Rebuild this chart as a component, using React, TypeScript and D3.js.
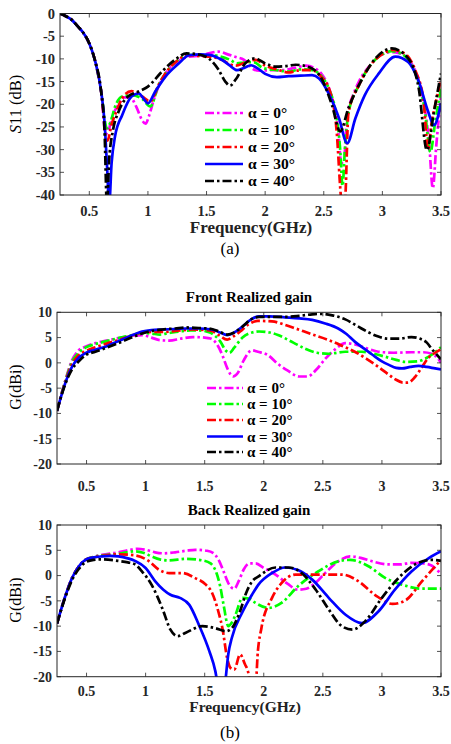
import React from 'react';
import * as d3 from 'd3';

type Pt = [number, number];

const freqTicks = [0.5, 1, 1.5, 2, 2.5, 3, 3.5];
const s11Ticks = [-40, -35, -30, -25, -20, -15, -10, -5, 0];
const gainTicks = [-20, -15, -10, -5, 0, 5, 10];
const seriesLabels = ['α = 0°', 'α = 10°', 'α = 20°', 'α = 30°', 'α = 40°'];
const seriesColors = ['#ff00ff', '#00ff00', '#ff0000', '#0000ff', '#000000'];
const seriesDashed = [true, true, true, false, true];

// ---------- (a) S11 ----------
const s11A0: Pt[] = [[0.25,0],[0.3,-0.6],[0.35,-1.4],[0.4,-2.8],[0.45,-4.3],[0.5,-6.6],[0.55,-10.5],[0.6,-17],[0.64,-26.5],[0.66,-26],[0.7,-22.5],[0.75,-20],[0.8,-18.5],[0.85,-18.5],[0.9,-20.5],[0.95,-23.5],[0.98,-24.3],[1.01,-22.5],[1.05,-19],[1.1,-15.5],[1.17,-12.5],[1.26,-10.5],[1.35,-9.5],[1.45,-9.3],[1.52,-8.8],[1.6,-8.4],[1.68,-9.0],[1.75,-9.6],[1.82,-10.2],[1.9,-12.3],[1.95,-12.6],[2.05,-12.5],[2.15,-12.5],[2.25,-12],[2.35,-11.5],[2.42,-12],[2.48,-13.3],[2.53,-15.5],[2.58,-19.5],[2.62,-25],[2.65,-33],[2.67,-33],[2.7,-22.5],[2.75,-18],[2.8,-15],[2.9,-11.3],[3.0,-9],[3.08,-8.5],[3.15,-8.8],[3.22,-10],[3.3,-14],[3.36,-20.5],[3.4,-29],[3.43,-38.5],[3.46,-29],[3.5,-18]];
const s11A10: Pt[] = [[0.25,0],[0.3,-0.6],[0.35,-1.4],[0.4,-2.8],[0.45,-4.3],[0.5,-6.6],[0.55,-10.5],[0.6,-17],[0.65,-25.3],[0.68,-24],[0.72,-20.5],[0.78,-18.3],[0.86,-18],[0.95,-18.8],[1.02,-20.5],[1.09,-15.8],[1.17,-12.5],[1.26,-10.2],[1.35,-9.1],[1.45,-9.2],[1.55,-9.2],[1.62,-9.5],[1.7,-10.2],[1.76,-11],[1.82,-10.8],[1.9,-10.7],[1.98,-12],[2.1,-12.5],[2.2,-12.8],[2.3,-12.3],[2.4,-12.5],[2.48,-13.8],[2.55,-17],[2.6,-21.5],[2.64,-30],[2.66,-38],[2.68,-30],[2.71,-22],[2.8,-15.8],[2.9,-11.3],[3.0,-9.0],[3.08,-8.3],[3.16,-8.8],[3.24,-11],[3.3,-14.5],[3.36,-21],[3.41,-30.5],[3.45,-24],[3.5,-16.5]];
const s11A20: Pt[] = [[0.25,0],[0.3,-0.6],[0.35,-1.4],[0.4,-2.8],[0.45,-4.3],[0.5,-6.6],[0.55,-10.5],[0.6,-17],[0.655,-28],[0.69,-24.5],[0.74,-21],[0.78,-18.7],[0.86,-17.1],[0.95,-18.3],[1.02,-19.4],[1.09,-15.8],[1.17,-12.5],[1.26,-10.2],[1.35,-9.2],[1.45,-9.4],[1.55,-9.6],[1.63,-10.2],[1.7,-11.2],[1.75,-11.5],[1.83,-10.8],[1.92,-10.2],[2.0,-11.5],[2.1,-12.3],[2.2,-13],[2.3,-12.5],[2.4,-12.5],[2.48,-14],[2.55,-17],[2.61,-26],[2.645,-40],[2.665,-45],[2.685,-40],[2.71,-22],[2.8,-15.8],[2.91,-11],[3.03,-8.5],[3.08,-8.0],[3.2,-9],[3.28,-12.5],[3.35,-19],[3.39,-30],[3.42,-24],[3.45,-20.3],[3.5,-14.5]];
const s11A30: Pt[] = [[0.25,0],[0.3,-0.6],[0.35,-1.4],[0.4,-2.8],[0.45,-4.3],[0.5,-6.6],[0.55,-10.5],[0.6,-17],[0.63,-24],[0.65,-33],[0.67,-42],[0.69,-33],[0.72,-27],[0.78,-22.4],[0.86,-18.3],[0.92,-17.6],[0.97,-19],[1.0,-19.8],[1.06,-17.3],[1.15,-13.9],[1.26,-11.1],[1.35,-9.2],[1.45,-9.0],[1.52,-9.1],[1.63,-10.2],[1.7,-11.5],[1.76,-12.5],[1.82,-12],[1.88,-11.4],[1.93,-12],[2.0,-13.3],[2.1,-14],[2.2,-13.8],[2.3,-13.7],[2.4,-13.6],[2.46,-14.3],[2.56,-18.6],[2.63,-23.1],[2.7,-28.6],[2.77,-23.1],[2.85,-18],[2.97,-13.2],[3.11,-9.5],[3.22,-10.7],[3.31,-15],[3.39,-21.6],[3.44,-24.6],[3.5,-19.8]];
const s11A40: Pt[] = [[0.25,0],[0.3,-0.6],[0.35,-1.4],[0.4,-2.8],[0.45,-4.3],[0.5,-6.6],[0.55,-10.5],[0.6,-17],[0.63,-26],[0.65,-42],[0.67,-32],[0.7,-26],[0.75,-21.6],[0.83,-18.3],[0.92,-17.2],[1.0,-16.1],[1.12,-12.8],[1.23,-10.2],[1.33,-8.8],[1.4,-8.9],[1.5,-9.6],[1.6,-12.3],[1.66,-15],[1.7,-15.9],[1.75,-14.5],[1.83,-11],[1.915,-9.9],[2.0,-11],[2.09,-11.7],[2.18,-11.6],[2.26,-11.3],[2.4,-12.1],[2.48,-14.3],[2.57,-20.2],[2.64,-26],[2.71,-20.9],[2.83,-14.3],[2.94,-9.9],[3.08,-7.7],[3.22,-9.9],[3.31,-16.5],[3.38,-30.1],[3.44,-21.6],[3.5,-13.2]];

// ---------- Front realized gain ----------
const frontA0: Pt[] = [[0.25,-9.5],[0.32,-3.5],[0.377,0.5],[0.434,2.5],[0.49,3.2],[0.575,3.9],[0.67,4.4],[0.77,4.9],[0.87,5.3],[0.97,5.5],[1.05,5.0],[1.12,4.5],[1.2,4.4],[1.3,4.8],[1.4,5.1],[1.5,5.0],[1.55,4.8],[1.6,3.8],[1.65,1.5],[1.69,-1.0],[1.74,-2.7],[1.78,-2.0],[1.83,0.5],[1.9,2.5],[1.95,2.2],[2.03,1.6],[2.12,-0.2],[2.2,-1.5],[2.3,-2.7],[2.37,-2.7],[2.45,-1.2],[2.52,0.8],[2.6,2.6],[2.69,3.9],[2.78,3.6],[2.88,2.8],[2.97,2.2],[3.1,2.0],[3.25,2.1],[3.35,2.1],[3.42,1.8],[3.47,1.0],[3.5,0.0]];
const frontA10: Pt[] = [[0.25,-9.5],[0.32,-3.6],[0.377,0.2],[0.434,2.0],[0.49,3.0],[0.575,3.7],[0.67,4.3],[0.77,4.9],[0.87,5.4],[0.97,5.9],[1.05,5.8],[1.12,5.6],[1.2,5.9],[1.28,6.2],[1.38,6.4],[1.45,6.4],[1.53,6.1],[1.58,5.5],[1.63,4.3],[1.68,2.4],[1.71,2.0],[1.75,3.0],[1.82,5.0],[1.9,6.0],[1.96,6.2],[2.05,6.0],[2.12,5.5],[2.25,4.0],[2.35,2.8],[2.45,2.0],[2.55,1.8],[2.69,2.2],[2.83,2.2],[2.95,1.7],[3.03,1.2],[3.12,0.6],[3.2,0.2],[3.3,0.3],[3.38,1.0],[3.45,2.1],[3.5,3.1]];
const frontA20: Pt[] = [[0.25,-9.5],[0.32,-3.8],[0.377,-0.3],[0.434,1.5],[0.49,2.3],[0.575,3.1],[0.67,3.8],[0.77,4.5],[0.87,5.3],[0.97,6.0],[1.05,6.1],[1.14,6.1],[1.25,6.3],[1.39,6.6],[1.5,6.5],[1.56,6.3],[1.62,5.5],[1.69,4.6],[1.74,5.2],[1.8,6.2],[1.87,7.6],[1.95,8.3],[2.07,8.2],[2.17,7.6],[2.27,6.8],[2.4,5.7],[2.55,4.5],[2.66,3.4],[2.77,2.2],[2.87,0.8],[2.97,-0.8],[3.05,-2.2],[3.11,-3.2],[3.18,-3.9],[3.22,-3.9],[3.28,-2.8],[3.34,-0.8],[3.39,0.9],[3.45,2.0],[3.5,2.7]];
const frontA30: Pt[] = [[0.25,-9.5],[0.32,-4.0],[0.377,-0.8],[0.434,1.0],[0.49,1.9],[0.575,2.6],[0.67,3.3],[0.77,4.3],[0.87,5.3],[0.97,6.2],[1.05,6.5],[1.14,6.6],[1.25,6.7],[1.34,6.8],[1.45,6.8],[1.56,6.6],[1.63,6.0],[1.69,5.5],[1.75,6.0],[1.82,7.2],[1.9,8.7],[1.96,9.2],[2.05,9.2],[2.18,9.0],[2.3,8.8],[2.41,8.5],[2.52,7.8],[2.63,6.8],[2.7,5.7],[2.77,4.2],[2.85,2.8],[2.92,1.6],[3.0,0.3],[3.06,-0.4],[3.12,-1.0],[3.17,-1.1],[3.24,-0.8],[3.31,-0.6],[3.38,-0.8],[3.45,-1.1],[3.5,-1.3]];
const frontA40: Pt[] = [[0.25,-9.5],[0.32,-4.2],[0.377,-1.3],[0.434,0.3],[0.49,1.5],[0.575,2.2],[0.67,3.0],[0.77,3.9],[0.87,4.9],[0.97,5.8],[1.05,6.3],[1.14,6.6],[1.25,6.8],[1.34,7.0],[1.45,6.9],[1.56,6.7],[1.63,6.1],[1.69,5.6],[1.75,6.0],[1.82,7.2],[1.9,8.7],[1.96,9.1],[2.07,9.1],[2.18,9.1],[2.3,9.3],[2.41,9.6],[2.49,9.7],[2.58,9.4],[2.69,8.6],[2.79,7.3],[2.89,6.0],[2.97,5.2],[3.05,4.8],[3.15,4.8],[3.25,5.1],[3.32,4.8],[3.38,4.0],[3.43,2.5],[3.47,1.5],[3.5,0.7]];

// ---------- Back realized gain ----------
const backA0: Pt[] = [[0.25,-9.5],[0.32,-4.1],[0.377,-0.5],[0.434,1.8],[0.49,3.1],[0.56,3.7],[0.63,4.1],[0.77,4.6],[0.85,5.0],[0.93,5.3],[1.0,5.1],[1.08,4.6],[1.15,4.4],[1.25,4.6],[1.34,4.9],[1.42,5.1],[1.52,4.9],[1.57,4.5],[1.62,3.0],[1.66,0.8],[1.7,-1.5],[1.75,-2.6],[1.79,-1.0],[1.83,1.2],[1.88,2.4],[1.93,2.4],[2.0,1.5],[2.1,0.2],[2.2,-1.6],[2.29,-2.8],[2.36,-2.6],[2.43,-1.6],[2.52,0.5],[2.63,2.8],[2.73,3.8],[2.82,3.5],[2.92,2.8],[3.05,2.2],[3.15,2.2],[3.25,2.5],[3.35,2.4],[3.42,2.0],[3.47,1.0],[3.5,0.3]];
const backA10: Pt[] = [[0.25,-9.5],[0.32,-4.1],[0.377,-0.5],[0.434,1.8],[0.49,3.1],[0.56,3.7],[0.63,4.0],[0.77,4.3],[0.91,4.8],[0.98,4.5],[1.05,3.8],[1.12,3.2],[1.2,3.0],[1.34,3.3],[1.48,3.0],[1.55,2.4],[1.6,0.5],[1.63,-2.0],[1.66,-5.8],[1.7,-10.0],[1.73,-9.3],[1.76,-7.8],[1.82,-4.4],[1.88,-4.6],[1.93,-5.4],[2.04,-6.4],[2.15,-5.4],[2.29,-2.1],[2.46,0.8],[2.63,2.8],[2.73,3.1],[2.82,2.6],[2.89,1.8],[3.03,-0.5],[3.17,-1.8],[3.34,-2.6],[3.5,-2.6]];
const backA20: Pt[] = [[0.25,-9.5],[0.32,-4.1],[0.377,-0.5],[0.434,1.8],[0.49,3.1],[0.56,3.6],[0.63,3.9],[0.77,4.2],[0.91,4.0],[1.03,2.8],[1.11,1.2],[1.2,0.5],[1.31,0.5],[1.42,-0.5],[1.51,-1.8],[1.56,-3.3],[1.59,-5.1],[1.62,-7.5],[1.65,-10.4],[1.69,-16.3],[1.72,-18.3],[1.75,-18.6],[1.8,-15.6],[1.84,-17.5],[1.87,-19.3],[1.9,-24],[1.925,-24],[1.95,-15],[1.98,-10.4],[2.07,-4.4],[2.15,-1.5],[2.27,0.2],[2.46,0.2],[2.66,0.2],[2.8,-1.1],[2.94,-3.8],[3.09,-5.6],[3.2,-4.9],[3.34,-1.1],[3.5,3.1]];
const backA30: Pt[] = [[0.25,-9.5],[0.32,-4.1],[0.377,-0.5],[0.434,1.8],[0.49,3.1],[0.56,3.6],[0.63,3.8],[0.7,3.9],[0.77,3.8],[0.85,3.4],[0.91,2.9],[1.0,1.5],[1.08,-1.1],[1.15,-2.8],[1.21,-3.8],[1.29,-4.4],[1.37,-5.8],[1.45,-9.7],[1.54,-15],[1.59,-18.9],[1.62,-23],[1.645,-26],[1.67,-22],[1.7,-15.5],[1.73,-12.3],[1.82,-7.2],[1.9,-3.8],[1.955,-1.8],[2.07,0.5],[2.18,1.6],[2.29,1.1],[2.41,-0.8],[2.55,-4.4],[2.69,-7.7],[2.83,-9.4],[2.97,-7.1],[3.11,-2.8],[3.25,0.8],[3.4,3.5],[3.5,4.8]];
const backA40: Pt[] = [[0.25,-9.5],[0.32,-4.3],[0.377,-0.9],[0.434,1.3],[0.49,2.6],[0.56,3.1],[0.63,3.2],[0.77,2.9],[0.85,2.6],[0.91,2.2],[0.97,0.8],[1.05,-1.8],[1.14,-6.4],[1.21,-10.7],[1.27,-12.0],[1.34,-11.3],[1.48,-10.0],[1.59,-10.4],[1.68,-11.0],[1.73,-10.4],[1.8,-7],[1.85,-3.5],[1.9,-1.2],[1.96,-0.1],[2.1,1.6],[2.21,1.6],[2.32,0.5],[2.44,-2.8],[2.55,-6.7],[2.66,-10.0],[2.75,-10.7],[2.86,-9.0],[3.0,-4.4],[3.14,-0.5],[3.28,2.2],[3.42,3.1],[3.5,2.9]];

const s11Series = [s11A0, s11A10, s11A20, s11A30, s11A40];
const frontSeries = [frontA0, frontA10, frontA20, frontA30, frontA40];
const backSeries = [backA0, backA10, backA20, backA30, backA40];

const SERIF = '"Liberation Serif", "Times New Roman", Times, serif';
const DASH = '9,3,2.5,3';
const AXIS = '#262626';

type PanelProps = {
  id: string;
  x0: number; x1: number; y0: number; y1: number;
  yDomain: [number, number];
  yTicks: number[];
  series: Pt[][];
  tickSize: number;
  xTickBaseline: number;
  yTickRight: number;
  title?: string;
  titleY?: number;
  legend?: { lx0: number; lx1: number; tx: number; rows: number[]; size: number };
};

function Panel(p: PanelProps) {
  const x = d3.scaleLinear().domain([0.25, 3.5]).range([p.x0, p.x1]);
  const y = d3.scaleLinear().domain(p.yDomain).range([p.y1, p.y0]);
  const line = d3.line<Pt>().x(d => x(d[0])).y(d => y(d[1])).curve(d3.curveMonotoneX);
  const tl = 4;
  return (
    <g>
      <defs>
        <clipPath id={p.id}>
          <rect x={p.x0} y={p.y0} width={p.x1 - p.x0} height={p.y1 - p.y0} />
        </clipPath>
      </defs>
      <rect x={p.x0} y={p.y0} width={p.x1 - p.x0} height={p.y1 - p.y0} fill="#fff" />
      <g clipPath={`url(#${p.id})`}>
        {p.series.map((s, i) => (
          <path key={i} d={line(s) || ''} fill="none" stroke={seriesColors[i]} strokeWidth={2.7}
            strokeDasharray={seriesDashed[i] ? DASH : undefined} strokeLinejoin="round" />
        ))}
      </g>
      {freqTicks.map(t => (
        <g key={'xt' + t}>
          <line x1={x(t)} x2={x(t)} y1={p.y1} y2={p.y1 - tl} stroke={AXIS} strokeWidth={0.8} />
          <line x1={x(t)} x2={x(t)} y1={p.y0} y2={p.y0 + tl} stroke={AXIS} strokeWidth={0.8} />
          <text x={x(t)} y={p.xTickBaseline} textAnchor="middle" fontFamily={SERIF} fontWeight="bold"
            fontSize={p.tickSize} fill={AXIS}>{t}</text>
        </g>
      ))}
      {p.yTicks.map(t => (
        <g key={'yt' + t}>
          <line x1={p.x0} x2={p.x0 + tl} y1={y(t)} y2={y(t)} stroke={AXIS} strokeWidth={0.8} />
          <line x1={p.x1} x2={p.x1 - tl} y1={y(t)} y2={y(t)} stroke={AXIS} strokeWidth={0.8} />
          <text x={p.yTickRight} y={y(t)} dy="0.35em" textAnchor="end" fontFamily={SERIF} fontWeight="bold"
            fontSize={p.tickSize} fill={AXIS}>{t}</text>
        </g>
      ))}
      <rect x={p.x0} y={p.y0} width={p.x1 - p.x0} height={p.y1 - p.y0} fill="none" stroke={AXIS} strokeWidth={1} />
      {p.title && (
        <text x={(p.x0 + p.x1) / 2} y={p.titleY} textAnchor="middle" fontFamily={SERIF} fontWeight="bold"
          fontSize={15} fill="#000">{p.title}</text>
      )}
      {p.legend && seriesLabels.map((lab, i) => (
        <g key={'lg' + i}>
          <line x1={p.legend!.lx0} x2={p.legend!.lx1} y1={p.legend!.rows[i]} y2={p.legend!.rows[i]}
            stroke={seriesColors[i]} strokeWidth={2.7} strokeDasharray={seriesDashed[i] ? DASH : undefined} />
          <text x={p.legend!.tx} y={p.legend!.rows[i]} dy="0.35em" fontFamily={SERIF} fontWeight="bold"
            fontSize={p.legend!.size} fill="#000">{lab}</text>
        </g>
      ))}
    </g>
  );
}

export default function App() {
  return (
    <svg width={451} height={744} viewBox="0 0 451 744"
      style={{ position: 'absolute', left: 0, top: 0, background: '#fff' }}>
      <rect x={0} y={0} width={451} height={744} fill="#fff" />
      {/* (a) */}
      <Panel id="clipA" x0={60} x1={441} y0={13.5} y1={195} yDomain={[-40, 0]} yTicks={s11Ticks}
        series={s11Series} tickSize={14.5} xTickBaseline={216} yTickRight={55}
        legend={{ lx0: 205, lx1: 243, tx: 248, rows: [113, 130, 147, 164, 181], size: 15.5 }} />
      <text transform="translate(21,104) rotate(-90)" textAnchor="middle" fontFamily={SERIF} fontSize={16.5} fill="#000">
        <tspan fontStyle="italic">S</tspan>11 (dB)
      </text>
      <text x={251} y={233} textAnchor="middle" fontFamily={SERIF} fontWeight="bold" fontSize={17} fill="#222">Frequency(GHz)</text>
      <text x={230} y={254} textAnchor="middle" fontFamily={SERIF} fontSize={17} fill="#000">(a)</text>

      {/* Front */}
      <Panel id="clipB" x0={57} x1={441} y0={312.3} y1={464} yDomain={[-20, 10]} yTicks={gainTicks}
        series={frontSeries} tickSize={14} xTickBaseline={490.5} yTickRight={52}
        title="Front Realized gain" titleY={302}
        legend={{ lx0: 207, lx1: 243, tx: 247, rows: [388, 404, 420, 436.5, 452], size: 15 }} />
      <text transform="translate(21,387) rotate(-90)" textAnchor="middle" fontFamily={SERIF} fontSize={16} fill="#000">G(dBi)</text>

      {/* Back */}
      <Panel id="clipC" x0={57} x1={441} y0={525} y1={676.7} yDomain={[-20, 10]} yTicks={gainTicks}
        series={backSeries} tickSize={14} xTickBaseline={696} yTickRight={52}
        title="Back Realized gain" titleY={515} />
      <text transform="translate(21,600) rotate(-90)" textAnchor="middle" fontFamily={SERIF} fontSize={16} fill="#000">G(dBi)</text>
      <text x={245} y={712} textAnchor="middle" fontFamily={SERIF} fontWeight="bold" fontSize={15.5} fill="#222">Frequency(GHz)</text>
      <text x={230} y={738} textAnchor="middle" fontFamily={SERIF} fontSize={17} fill="#000">(b)</text>
    </svg>
  );
}
